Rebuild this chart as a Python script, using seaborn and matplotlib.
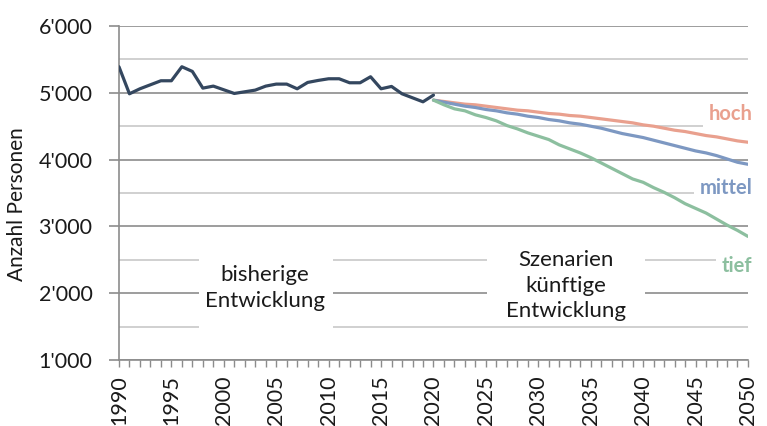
import numpy as np, pandas as pd
import matplotlib
matplotlib.use("Agg")
import matplotlib.pyplot as plt
import seaborn as sns
from matplotlib.ticker import FuncFormatter, MultipleLocator
from matplotlib.patches import Rectangle

# --- data ---
years_hist = list(range(1990, 2021))
hist = [5390, 4985, 5060, 5120, 5180, 5180, 5390, 5320, 5070, 5100, 5045,
        4990, 5015, 5040, 5100, 5130, 5130, 5060, 5155, 5185, 5210, 5210,
        5150, 5150, 5240, 5060, 5095, 4985, 4925, 4865, 4965]

years_scen = list(range(2020, 2051))
hoch = [4890, 4870, 4850, 4830, 4820, 4800, 4780, 4760, 4740, 4730, 4710,
        4690, 4680, 4660, 4650, 4630, 4610, 4590, 4570, 4550, 4520, 4500,
        4470, 4440, 4420, 4390, 4360, 4340, 4310, 4280, 4260]
mittel = [4890, 4860, 4830, 4800, 4780, 4750, 4730, 4700, 4680, 4650, 4630,
          4600, 4580, 4550, 4530, 4500, 4470, 4430, 4390, 4360, 4330, 4290,
          4250, 4210, 4170, 4130, 4100, 4060, 4010, 3960, 3930]
tief = [4890, 4820, 4760, 4730, 4670, 4630, 4580, 4510, 4460, 4400, 4350,
        4300, 4220, 4160, 4100, 4030, 3950, 3870, 3790, 3710, 3660, 3580,
        3510, 3430, 3340, 3270, 3200, 3110, 3020, 2940, 2850]

colors = {"hist": "#34475f", "hoch": "#e9a08e", "mittel": "#7d98c2", "tief": "#8cbf9f"}

df = pd.concat([
    pd.DataFrame({"Jahr": years_hist, "Wert": hist, "Serie": "hist"}),
    pd.DataFrame({"Jahr": years_scen, "Wert": hoch, "Serie": "hoch"}),
    pd.DataFrame({"Jahr": years_scen, "Wert": mittel, "Serie": "mittel"}),
    pd.DataFrame({"Jahr": years_scen, "Wert": tief, "Serie": "tief"}),
])

sns.set_theme(style="white")
plt.rcParams['font.family'] = ['Lato', 'DejaVu Sans']

fig = plt.figure(figsize=(7.67, 4.26), dpi=100)
ax = fig.add_axes([0.1551, 0.1549, 0.8201, 0.7841])

sns.lineplot(data=df, x="Jahr", y="Wert", hue="Serie", palette=colors,
             linewidth=2.3, legend=False, ax=ax, zorder=3)

ax.set_xlim(1990, 2050)
ax.set_ylim(1000, 6000)

# grid
ax.yaxis.set_major_locator(MultipleLocator(1000))
ax.yaxis.set_minor_locator(MultipleLocator(500))
ax.xaxis.set_major_locator(MultipleLocator(5))
ax.xaxis.set_minor_locator(MultipleLocator(1))
ax.grid(False)
ax.grid(axis="y", which="major", color="#8c8c8c", linewidth=1.2, zorder=0)
ax.grid(axis="y", which="minor", color="#c8c8c8", linewidth=1.2, zorder=0)
ax.set_axisbelow(True)

for s in ["top", "right"]:
    ax.spines[s].set_visible(False)
for s in ["left", "bottom"]:
    ax.spines[s].set_color("#8c8c8c")
    ax.spines[s].set_linewidth(1.2)

ax.yaxis.set_major_formatter(FuncFormatter(lambda v, p: f"{int(v):,}".replace(",", "'")))
ax.tick_params(axis="y", which="major", length=7, width=1.2, color="#8c8c8c",
               labelsize=15.5, pad=12, labelcolor="#1a1a1a", left=True)
ax.tick_params(axis="y", which="minor", length=0)
ax.tick_params(axis="x", which="both", length=5, width=1, color="#8c8c8c",
               labelsize=15.5, labelrotation=90, labelcolor="#1a1a1a", bottom=True)
ax.tick_params(axis="x", which="major", pad=6)

ax.set_xlabel("")
ax.set_ylabel("Anzahl Personen", fontsize=15, color="#1a1a1a")
ax.yaxis.set_label_coords(-0.146, 0.467)

# white text boxes covering the grid
ax.add_patch(Rectangle((1997.6, 1370), 12.8, 1300, facecolor="white",
                       edgecolor="none", zorder=1))
ax.add_patch(Rectangle((2025.1, 1630), 15.1, 1150, facecolor="white",
                       edgecolor="none", zorder=1))
ax.text(2003.9, 2080, "bisherige\nEntwicklung", ha="center", va="center",
        fontsize=16, color="#1a1a1a", linespacing=1.35, zorder=4)
ax.text(2032.6, 2110, "Szenarien\nkünftige\nEntwicklung", ha="center", va="center",
        fontsize=16, color="#1a1a1a", linespacing=1.35, zorder=4)

# series labels (below the lines so the boxes never hide them)
lbl_box = dict(facecolor="white", edgecolor="none", pad=4)
ax.text(2050.4, 4690, "hoch", ha="right", va="center", fontsize=14.5,
        fontweight="bold", color=colors["hoch"], bbox=lbl_box, clip_on=False, zorder=2)
ax.text(2050.4, 3570, "mittel", ha="right", va="center", fontsize=14.5,
        fontweight="bold", color=colors["mittel"], bbox=lbl_box, clip_on=False, zorder=2)
ax.text(2050.4, 2400, "tief", ha="right", va="center", fontsize=14.5,
        fontweight="bold", color=colors["tief"], bbox=lbl_box, clip_on=False, zorder=2)

fig.savefig("out.png", dpi=100)
